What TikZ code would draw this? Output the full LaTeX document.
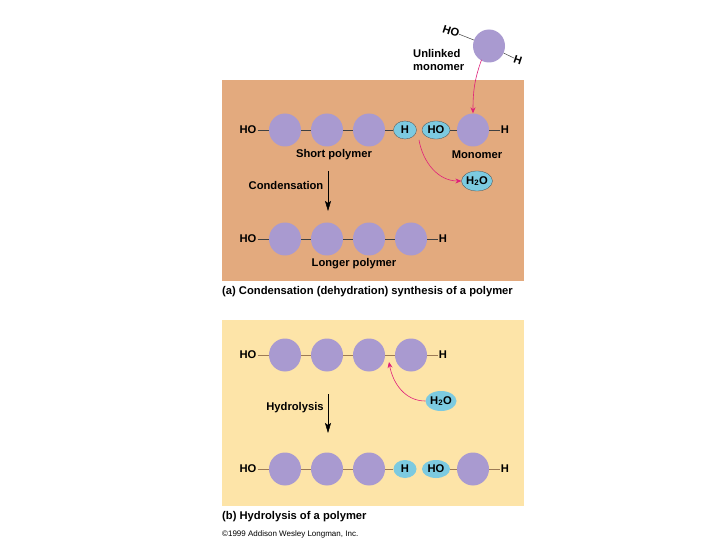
\documentclass[tikz,border=0pt]{standalone}
\usepackage{fontspec}
\setmainfont{Liberation Sans}
\usetikzlibrary{arrows.meta,shapes.geometric}
\definecolor{panA}{HTML}{E3AA7E}
\definecolor{panB}{HTML}{FDE4A8}
\definecolor{mono}{HTML}{A99AD0}
\definecolor{wat}{HTML}{7CCAE0}
\definecolor{pinkarr}{HTML}{E0207A}
\definecolor{bondb}{HTML}{9C7A55}
\tikzset{
  x=1pt,y=-1pt,
  lbl/.style={font=\fontsize{11.2}{13}\selectfont\bfseries, inner sep=1pt},
  ball/.style={ellipse, fill=mono, minimum width=32pt, minimum height=33pt, inner sep=0pt},
  wball/.style={ellipse, fill=wat, draw=black!70, line width=0.3pt, minimum width=23pt, minimum height=18pt, inner sep=0pt, font=\fontsize{11.2}{13}\selectfont\bfseries},
  bond/.style={draw=black!75, line width=0.5pt},
  bondB/.style={draw=bondb, line width=0.8pt},
  pk/.style={draw=pinkarr, line width=0.6pt, -{Stealth[length=6pt,width=5pt]}},
  dn/.style={draw=black, line width=0.5pt, -{Stealth[length=10pt,width=6pt,inset=2pt]}},
}
\begin{document}
\begin{tikzpicture}
\useasboundingbox (0,0) rectangle (720,540);
\fill[white] (0,0) rectangle (720,540);
% panels
\fill[panA] (222,80) rectangle (524,281);
\fill[panB] (222,320) rectangle (524,506);

% unlinked monomer
\node[ball] (um) at (489,46) {};
\node[lbl, rotate=-18, inner sep=0pt] (umho) at (451,31) {HO};
\node[lbl, rotate=-18, inner sep=0pt] (umh) at (518,60) {H};
\draw[bond] (umho) -- (um);
\draw[bond] (um) -- (umh);
\node[lbl, align=left, anchor=north west, inner sep=0pt] (umt) at (413,49) {Unlinked\\monomer};

% row 1 (panel a)
\node[lbl] (a1ho) at (248,130) {HO};
\node[ball] (a1c1) at (285,130) {};
\node[ball] (a1c2) at (327,130) {};
\node[ball] (a1c3) at (369,130) {};
\node[wball] (a1h) at (405,130) {H};
\node[wball, minimum width=28pt] (a1ho2) at (436,130) {HO};
\node[ball] (a1m) at (473,130) {};
\node[lbl] (a1hh) at (505,130) {H};
\draw[bond] (a1ho) -- (a1c1) (a1c1) -- (a1c2) (a1c2) -- (a1c3) (a1c3) -- (a1h);
\draw[bond] (a1ho2) -- (a1m) (a1m) -- (a1hh);
\node[lbl] (sp) at (334,155) {Short polymer};
\node[lbl] (mn) at (477,155) {Monomer};
\node[wball, minimum width=31pt, minimum height=20pt] (aw) at (477,181) {H\textsubscript{2}O};
\coordinate (pa1) at (419,140);
\draw[pk] (pa1) to[out=-80, in=180] (aw.west);
\draw[pk] (um.south west) ++(4,2) coordinate (ums) to[out=-110, in=90] (a1m.north);

\node[lbl] (cond) at (286,185) {Condensation};
\coordinate (ca) at (328,171);
\coordinate (cb) at (328,211);
\draw[dn] (ca) -- (cb);

% row 2 (panel a)
\node[lbl] (a2ho) at (248,239) {HO};
\node[ball] (a2c1) at (285,239) {};
\node[ball] (a2c2) at (327,239) {};
\node[ball] (a2c3) at (369,239) {};
\node[ball] (a2c4) at (411,239) {};
\node[lbl] (a2h) at (443,239) {H};
\draw[bond] (a2ho) -- (a2c1) (a2c1) -- (a2c2) (a2c2) -- (a2c3) (a2c3) -- (a2c4) (a2c4) -- (a2h);
\node[lbl] (lp) at (354,264) {Longer polymer};

\node[lbl, anchor=west] (capa) at (221,292) {(a) Condensation (dehydration) synthesis of a polymer};

% panel b row 1
\node[lbl] (b1ho) at (248,355) {HO};
\node[ball] (b1c1) at (285,355) {};
\node[ball] (b1c2) at (327,355) {};
\node[ball] (b1c3) at (369,355) {};
\node[ball] (b1c4) at (411,355) {};
\node[lbl] (b1h) at (443,355) {H};
\draw[bondB] (b1ho) -- (b1c1) (b1c1) -- (b1c2) (b1c2) -- (b1c3) (b1c3) -- (b1c4) (b1c4) -- (b1h);
\node[wball, draw=none, minimum width=31pt, minimum height=20pt] (bw) at (441,401) {H\textsubscript{2}O};
\coordinate (bt) at (389,362);
\draw[pk] (bw.west) to[out=180, in=-80] (bt);

\node[lbl] (hyd) at (295,408) {Hydrolysis};
\coordinate (ha) at (328,394);
\coordinate (hb) at (328,433);
\draw[dn] (ha) -- (hb);

% panel b row 2
\node[lbl] (b2ho) at (248,469) {HO};
\node[ball] (b2c1) at (285,469) {};
\node[ball] (b2c2) at (327,469) {};
\node[ball] (b2c3) at (369,469) {};
\node[wball, draw=none] (b2h) at (405,469) {H};
\node[wball, draw=none, minimum width=28pt] (b2ho2) at (436,469) {HO};
\node[ball] (b2m) at (473,469) {};
\node[lbl] (b2hh) at (505,469) {H};
\draw[bondB] (b2ho) -- (b2c1) (b2c1) -- (b2c2) (b2c2) -- (b2c3) (b2c3) -- (b2h);
\draw[bondB] (b2ho2) -- (b2m) (b2m) -- (b2hh);

\node[lbl, anchor=west] (capb) at (221,517) {(b) Hydrolysis of a polymer};
\node[font=\fontsize{8}{9}\selectfont, anchor=west, inner sep=1pt] (copy) at (221,534) {©1999 Addison Wesley Longman, Inc.};
\end{tikzpicture}
\end{document}
